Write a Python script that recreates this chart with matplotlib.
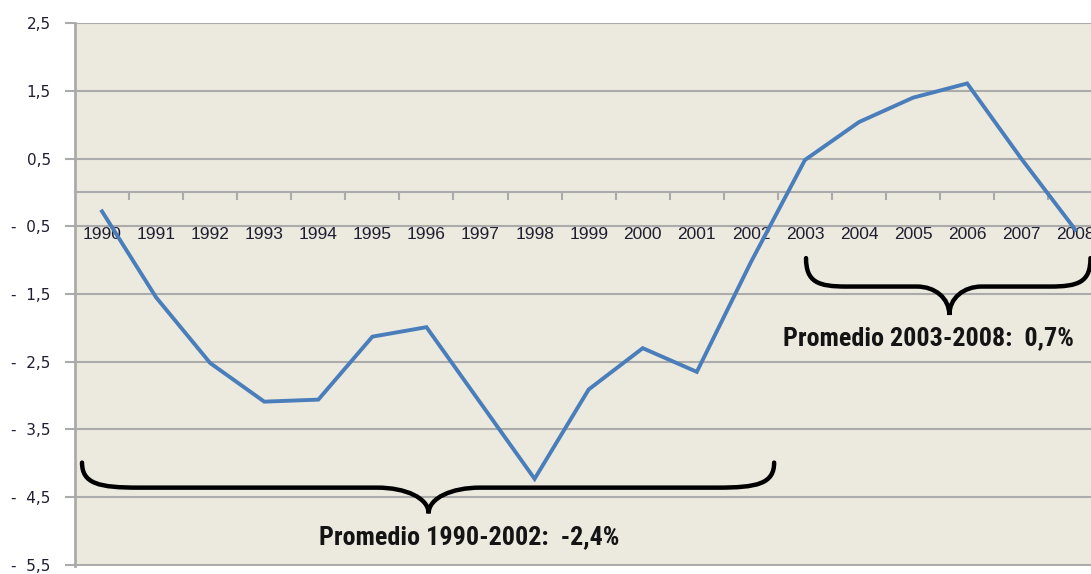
import numpy as np
import matplotlib
matplotlib.use("Agg")
import matplotlib.pyplot as plt
from matplotlib.path import Path
from matplotlib.patches import PathPatch
from matplotlib import font_manager

# ---- data ----
years = [1990, 1991, 1992, 1993, 1994, 1995, 1996, 1997, 1998, 1999,
         2000, 2001, 2002, 2003, 2004, 2005, 2006, 2007, 2008]
values = [-0.28, -1.55, -2.52, -3.09, -3.06, -2.13, -1.99, -3.11, -4.23, -2.91,
          -2.30, -2.65, -1.03, 0.48, 1.04, 1.40, 1.61, 0.50, -0.55]
ytick_values = [2.5, 1.5, 0.5, -0.5, -1.5, -2.5, -3.5, -4.5, -5.5]
ytick_labels = ['2,5', '1,5', '0,5', '-  0,5', '-  1,5', '-  2,5', '-  3,5', '-  4,5', '-  5,5']
note_left = 'Promedio 1990-2002:  -2,4%'
note_right = 'Promedio 2003-2008:  0,7%'

BG = '#ECE9DF'
GRID = '#ABABAB'
LINE = '#4A7EBB'
TXT = '#1E1E30'

# pick a condensed bold face if one is installed
names = {f.name for f in font_manager.fontManager.ttflist}
note_family = ['Liberation Sans', 'DejaVu Sans']
note_stretch = 'normal'
note_size = 16.5
for cand, sz in [('Liberation Sans Narrow', 19.5), ('Roboto Condensed', 18.8),
                 ('DejaVu Sans Condensed', 17.5), ('Open Sans Condensed', 18.5)]:
    if cand in names:
        note_family = [cand, 'DejaVu Sans']
        note_size = sz
        break

fig = plt.figure(figsize=(10.91, 5.74), dpi=100)
ax = fig.add_axes([75/1091, 1 - 565.5/574, 1 - 75/1091, (565.5 - 22.5)/574])
ax.set_facecolor(BG)

x = np.arange(len(years))
ax.plot(x, values, color=LINE, lw=2.8, solid_joinstyle='miter', zorder=3)

ax.set_xlim(-0.5, 18.29)
ax.set_ylim(-5.51, 2.51)

# y axis
ax.set_yticks(ytick_values)
ax.set_yticklabels(ytick_labels)
ax.yaxis.grid(True, color=GRID, lw=1.5)
ax.tick_params(axis='y', length=7, width=1.5, color=GRID, direction='out',
               pad=10.5, labelsize=11, labelcolor=TXT)
for lab in ax.get_yticklabels():
    lab.set_family('DejaVu Sans')

# x axis at zero
ax.spines['bottom'].set_position(('data', 0))
ax.spines['bottom'].set_color(GRID)
ax.spines['bottom'].set_linewidth(1.5)
ax.spines['left'].set_color(GRID)
ax.spines['left'].set_linewidth(2.0)
ax.spines['top'].set_visible(False)
ax.spines['right'].set_visible(False)
ax.set_xticks(x)
ax.set_xticklabels([str(y) for y in years])
ax.set_xticks(np.arange(0.5, len(years) - 1, 1.0), minor=True)
ax.tick_params(axis='x', which='major', length=0, pad=25, labelsize=12.5,
               labelcolor=TXT)
ax.tick_params(axis='x', which='minor', length=6, width=1.5, color=GRID,
               direction='out')
for lab in ax.get_xticklabels():
    lab.set_family(['Liberation Sans', 'DejaVu Sans'])
ax.set_axisbelow(True)


def brace(ax, x0, x1, xm, y_tip, y_bar, y_mid, we, wm):
    yc = y_tip + 0.85 * (y_bar - y_tip)
    ym = y_bar + 0.4 * (y_mid - y_bar)
    verts = [
        (x0, y_tip),
        (x0, yc), (x0 + 0.3 * we, y_bar), (x0 + we, y_bar),
        (xm - wm, y_bar),
        (xm - 0.45 * wm, y_bar), (xm, ym), (xm, y_mid),
        (xm, ym), (xm + 0.45 * wm, y_bar), (xm + wm, y_bar),
        (x1 - we, y_bar),
        (x1 - 0.3 * we, y_bar), (x1, yc), (x1, y_tip),
    ]
    codes = [Path.MOVETO,
             Path.CURVE4, Path.CURVE4, Path.CURVE4,
             Path.LINETO,
             Path.CURVE4, Path.CURVE4, Path.CURVE4,
             Path.CURVE4, Path.CURVE4, Path.CURVE4,
             Path.LINETO,
             Path.CURVE4, Path.CURVE4, Path.CURVE4]
    p = PathPatch(Path(verts, codes), fill=False, edgecolor='black', lw=3.2,
                  capstyle='round', joinstyle='miter', zorder=4, clip_on=False)
    ax.add_patch(p)


brace(ax, -0.37, 12.43, 6.04, -3.99, -4.36, -4.74, 1.05, 0.95)
brace(ax, 13.02, 18.28, 15.67, -0.97, -1.39, -1.81, 0.75, 0.6)

font_note = dict(family=note_family, stretch=note_stretch, weight='bold',
                 size=note_size, color='#141414', ha='center', va='center',
                 zorder=5)
ax.text(6.79, -5.09, note_left, **font_note)
ax.text(15.29, -2.16, note_right, **font_note)

fig.savefig('out.png', dpi=100, facecolor='white')
